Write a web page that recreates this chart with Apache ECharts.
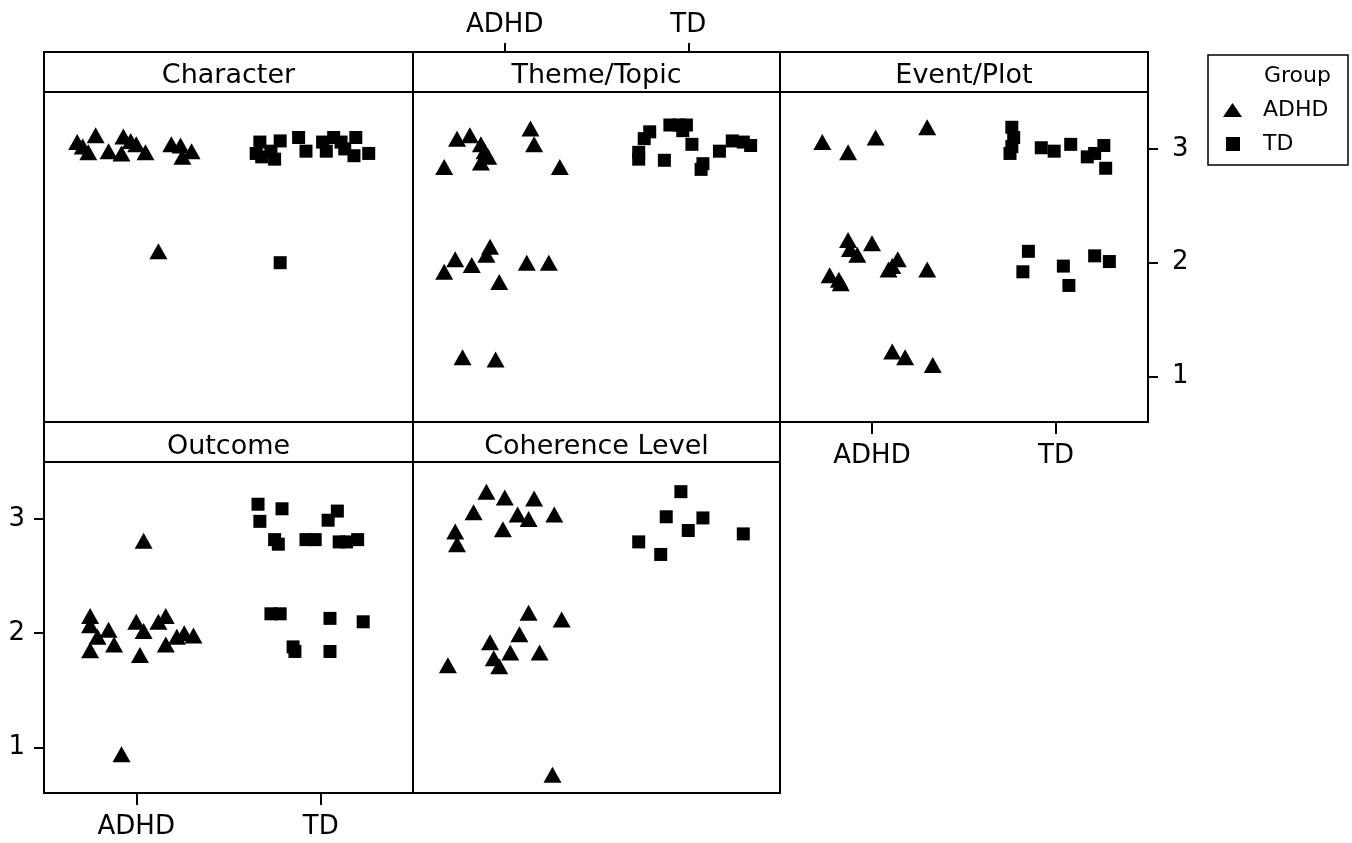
<!DOCTYPE html>
<html>
<head>
<meta charset="utf-8">
<script src="https://cdn.jsdelivr.net/npm/echarts@6/dist/echarts.min.js"></script>
<style>
html,body{margin:0;padding:0;background:#fff;}
#chart{width:1352px;height:843px;}
</style>
</head>
<body>
<div id="chart"></div>
<script>
// ---------- data ----------
const groups = ['ADHD', 'TD'];
const panelTitles = ['Character', 'Theme/Topic', 'Event/Plot', 'Outcome', 'Coherence Level'];
const xTickLabels = ['ADHD', 'TD'];     // at x = 1, 2
const xTickValues = [1, 2];
const yTickValues = [1, 2, 3];

// [jittered group position (1 = ADHD, 2 = TD), jittered score]
const characterADHD = [[0.68,3.06],[0.71,3.02],[0.74,2.97],[0.78,3.12],[0.85,2.98],[0.92,2.96],[0.93,3.11],[0.97,3.07],[1.00,3.04],[1.05,2.97],[1.19,3.04],[1.24,3.03],[1.25,2.93],[1.30,2.98],[1.12,2.10]];
const characterTD = [[1.67,3.06],[1.65,2.96],[1.68,2.93],[1.73,2.98],[1.75,2.91],[1.78,3.07],[1.88,3.10],[1.92,2.98],[2.01,3.06],[2.03,2.98],[2.07,3.10],[2.11,3.06],[2.13,3.00],[2.18,2.94],[2.19,3.10],[2.26,2.96],[1.78,2.00]];
const themeADHD = [[0.74,3.09],[0.81,3.12],[0.87,3.04],[0.89,2.98],[0.91,2.93],[0.87,2.88],[0.67,2.84],[1.14,3.18],[1.16,3.04],[1.30,2.84],[0.67,1.92],[0.73,2.03],[0.82,1.98],[0.92,2.14],[0.90,2.07],[0.97,1.83],[1.12,2.00],[1.24,2.00],[0.77,1.17],[0.95,1.15]];
const themeTD = [[1.73,2.97],[1.73,2.91],[1.76,3.09],[1.79,3.15],[1.90,3.21],[1.95,3.21],[1.99,3.21],[1.97,3.16],[2.02,3.04],[1.87,2.90],[2.07,2.82],[2.08,2.87],[2.17,2.98],[2.24,3.07],[2.30,3.06],[2.34,3.03]];
const eventADHD = [[0.73,3.06],[0.87,2.97],[1.02,3.10],[1.30,3.19],[0.87,2.20],[0.88,2.12],[0.92,2.07],[1.00,2.17],[0.77,1.89],[0.82,1.85],[0.83,1.82],[1.09,1.94],[1.11,1.97],[1.14,2.03],[1.30,1.94],[1.11,1.22],[1.18,1.17],[1.33,1.10]];
const eventTD = [[1.76,3.19],[1.77,3.10],[1.76,3.02],[1.75,2.96],[1.92,3.01],[1.99,2.98],[2.08,3.04],[2.17,2.93],[2.21,2.96],[2.26,3.03],[2.27,2.83],[1.85,2.10],[1.82,1.92],[2.04,1.97],[2.07,1.80],[2.21,2.06],[2.29,2.01]];
const outcomeADHD = [[1.04,2.81],[0.75,2.15],[0.75,2.07],[0.75,1.85],[0.79,1.97],[0.85,2.03],[0.88,1.90],[1.00,2.10],[1.04,2.02],[1.02,1.81],[1.12,2.10],[1.16,2.15],[1.16,1.90],[1.22,1.97],[1.26,2.00],[1.31,1.98],[0.92,0.94]];
const outcomeTD = [[1.66,3.13],[1.79,3.09],[1.67,2.98],[1.75,2.82],[1.77,2.78],[1.92,2.82],[1.97,2.82],[2.09,3.07],[2.04,2.99],[2.10,2.80],[2.14,2.80],[2.20,2.82],[1.73,2.17],[1.78,2.17],[1.85,1.88],[1.86,1.84],[2.05,2.13],[2.05,1.84],[2.23,2.10]];
const coherenceADHD = [[0.90,3.24],[1.00,3.19],[1.16,3.18],[0.83,3.06],[1.07,3.04],[1.13,3.00],[1.27,3.04],[0.99,2.91],[0.73,2.89],[0.74,2.78],[1.13,2.18],[1.31,2.12],[1.08,1.99],[0.92,1.92],[1.03,1.83],[1.19,1.83],[0.94,1.78],[0.97,1.71],[0.69,1.72],[1.26,0.76]];
const coherenceTD = [[1.96,3.24],[1.88,3.02],[2.08,3.01],[2.00,2.90],[1.73,2.80],[1.85,2.69],[2.30,2.87]];

const panelData = [
  [characterADHD, characterTD],
  [themeADHD, themeTD],
  [eventADHD, eventTD],
  [outcomeADHD, outcomeTD],
  [coherenceADHD, coherenceTD]
];

// ---------- layout / style ----------
const FONT = 'DejaVu Sans';
const grids = [
  {left: 44,  top: 92,  width: 369, height: 330},
  {left: 413, top: 92,  width: 367, height: 330},
  {left: 780, top: 92,  width: 368, height: 330},
  {left: 44,  top: 462, width: 369, height: 331},
  {left: 413, top: 462, width: 367, height: 331}
];
const stripH = 40;
const titleTop = [62, 62, 62, 433, 433];

const tickFmt = v => xTickLabels[xTickValues.indexOf(Math.round(v))] || '';

function xAxisFor(i) {
  const a = {
    type: 'value', gridIndex: i, min: 0.5, max: 2.5, show: false,
    splitLine: {show: false},
    axisLine: {show: true, lineStyle: {color: '#000', width: 2}},
    axisTick: {show: true, customValues: xTickValues, length: 12, lineStyle: {color: '#000', width: 2}},
    axisLabel: {show: true, customValues: xTickValues, formatter: tickFmt, margin: 21,
                fontFamily: FONT, fontSize: 26, color: '#000'}
  };
  if (i === 1) {
    a.show = true; a.position = 'top'; a.offset = 40;
    a.axisLine = {show: false};
    a.axisTick.length = 9;
    a.axisLabel.margin = 14;
  }
  if (i === 2 || i === 3) a.show = true;
  return a;
}
function yAxisFor(i) {
  const a = {
    type: 'value', gridIndex: i, min: 0.6, max: 3.5, show: false,
    splitLine: {show: false},
    axisLine: {show: true, lineStyle: {color: '#000', width: 2}},
    axisTick: {show: true, customValues: yTickValues, length: 10, lineStyle: {color: '#000', width: 2}},
    axisLabel: {show: true, customValues: yTickValues, margin: 19,
                fontFamily: FONT, fontSize: 26, color: '#000'}
  };
  if (i === 2) { a.show = true; a.position = 'right'; a.axisLabel.margin = 24; }
  if (i === 3) { a.show = true; a.position = 'left'; }
  return a;
}

const series = [];
panelData.forEach((pair, i) => {
  pair.forEach((data, g) => {
    series.push({
      name: groups[g], type: 'scatter', xAxisIndex: i, yAxisIndex: i,
      data: data,
      symbol: g === 0 ? 'triangle' : 'rect',
      symbolSize: g === 0 ? [18, 16] : [13, 13],
      itemStyle: {color: '#000', opacity: 1},
      emphasis: {disabled: true},
      silent: true
    });
  });
});

const titles = panelTitles.map((t, i) => ({
  text: t,
  left: grids[i].left + grids[i].width / 2,
  top: titleTop[i],
  textAlign: 'center',
  padding: 0,
  textStyle: {fontFamily: FONT, fontSize: 27, fontWeight: 'normal', color: '#000'}
}));

const graphics = grids.map((g, i) => ({
  type: 'rect', z: 10,
  shape: {x: g.left, y: g.top - stripH, width: g.width, height: stripH},
  style: {fill: 'none', stroke: '#000', lineWidth: 2}
}));
graphics.push({
  type: 'rect', z: 10,
  shape: {x: 1208, y: 55, width: 140, height: 110},
  style: {fill: 'none', stroke: '#000', lineWidth: 1.5}
});
graphics.push({
  type: 'text', z: 10, left: 1264, top: 65,
  style: {text: 'Group', fontFamily: FONT, fontSize: 22, fill: '#000'}
});

const option = {
  backgroundColor: '#fff',
  animation: false,
  title: titles,
  grid: grids.map(g => Object.assign({show: true, borderColor: '#000', borderWidth: 2, backgroundColor: 'transparent'}, g)),
  xAxis: grids.map((g, i) => xAxisFor(i)),
  yAxis: grids.map((g, i) => yAxisFor(i)),
  legend: [
    {data: [groups[0]], left: 1223, top: 99, padding: 0, itemWidth: 19, itemHeight: 14,
     icon: 'path://M9.5,0L19,14L0,14Z', selectedMode: false,
     textStyle: {fontFamily: FONT, fontSize: 22, color: '#000', padding: [0, 0, 0, 16]}},
    {data: [groups[1]], left: 1226, top: 133, padding: 0, itemWidth: 14, itemHeight: 14,
     icon: 'rect', selectedMode: false,
     textStyle: {fontFamily: FONT, fontSize: 22, color: '#000', padding: [0, 0, 0, 18]}}
  ],
  graphic: graphics,
  series: series
};

const chart = echarts.init(document.getElementById('chart'), null, {renderer: 'canvas'});
chart.setOption(option);
</script>
</body>
</html>
